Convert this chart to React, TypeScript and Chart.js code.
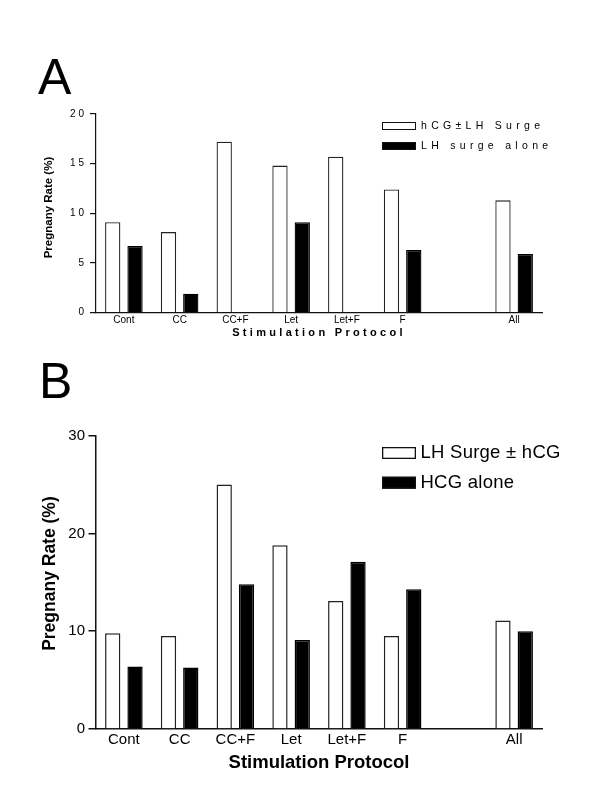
import React, { useEffect, useRef } from 'react';
import { Chart, registerables } from 'chart.js';

Chart.register(...registerables);

// ---------- data ----------
const categories = ['Cont', 'CC', 'CC+F', 'Let', 'Let+F', 'F', '', 'All'];

const panelAHcgLh = [9.1, 8.1, 17.2, 14.8, 15.7, 12.4, 0, 11.3];
const panelALhAlone = [6.7, 1.9, 0, 9.1, 0, 6.3, 0, 5.9];
const panelALabels = ['hCG\u00B1LH Surge', 'LH surge alone'];
const panelATicks = [0, 5, 10, 15, 20];

const panelBLhHcg = [9.8, 9.5, 25.0, 18.8, 13.1, 9.5, 0, 11.1];
const panelBHcgAlone = [6.4, 6.3, 14.8, 9.1, 17.1, 14.3, 0, 10.0];
const panelBLabels = ['LH Surge \u00B1 hCG', 'HCG alone'];
const panelBTicks = [0, 10, 20, 30];

const xTitleText = 'Stimulation Protocol';
const yTitleText = 'Pregnany Rate (%)';

const FONT = "'Liberation Sans', Arial, Helvetica, sans-serif";

// ---------- plugins ----------
const customLegend = {
  id: 'customLegend',
  afterDraw(chart: any, _args: any, o: any) {
    if (!o || !o.display) return;
    const ctx = chart.ctx;
    ctx.save();
    chart.data.datasets.forEach((ds: any, i: number) => {
      const y = o.y + i * o.gap;
      ctx.fillStyle = ds.backgroundColor;
      ctx.fillRect(o.x, y, o.boxW, o.boxH);
      ctx.lineWidth = o.boxBorder;
      ctx.strokeStyle = '#111';
      ctx.strokeRect(o.x + o.boxBorder / 2, y + o.boxBorder / 2, o.boxW - o.boxBorder, o.boxH - o.boxBorder);
      ctx.font = o.font;
      ctx.letterSpacing = o.letterSpacing || '0px';
      ctx.fillStyle = '#000';
      ctx.textAlign = 'left';
      ctx.textBaseline = 'middle';
      ctx.fillText(ds.label, o.x + o.boxW + o.textGap, y + o.boxH / 2 + (o.textDy || 0));
    });
    ctx.restore();
  },
};

const textTweaks = {
  id: 'textTweaks',
  beforeDraw(chart: any, _args: any, o: any) {
    const ctx = chart.ctx;
    const wrap = (obj: any, name: string, spacing: string | null, dy: number) => {
      if (!obj || obj['__w_' + name]) return;
      const orig = obj[name];
      obj[name] = function (...args: any[]) {
        ctx.save();
        if (spacing) ctx.letterSpacing = spacing;
        if (dy) ctx.translate(0, dy);
        orig.apply(this, args);
        ctx.restore();
      };
      obj['__w_' + name] = true;
    };
    wrap(chart.scales.y, 'drawLabels', o.yTickSpacing || null, 0);
    wrap(chart.scales.x, 'drawTitle', o.xTitleSpacing || null, 0);
    wrap(chart.scales.y, 'drawTitle', null, o.yTitleDy || 0);
  },
};

type PanelCfg = {
  white: number[];
  black: number[];
  labels: string[];
  ticks: number[];
  yMax: number;
  areaTop: number;
  xAxisHeight: number;
  axisW: number;
  barBorder: number;
  tickLen: number;
  yTickFont: number;
  yTickPad: number;
  xTickFont: number;
  xTickPad: number;
  xTitleFont: number;
  xTitlePadBottom: number;
  yTitleFont: number;
  yTitlePadTop: number;
  legend: any;
  tweaks: any;
};

function makeConfig(p: PanelCfg): any {
  return {
    type: 'bar',
    data: {
      labels: categories,
      datasets: [
        {
          label: p.labels[0],
          data: p.white,
          backgroundColor: '#ffffff',
          borderColor: '#222222',
          borderWidth: p.barBorder,
          categoryPercentage: 0.8,
          barPercentage: 0.686,
        },
        {
          label: p.labels[1],
          data: p.black,
          backgroundColor: '#000000',
          borderColor: '#000000',
          borderWidth: p.barBorder,
          categoryPercentage: 0.8,
          barPercentage: 0.686,
        },
      ],
    },
    options: {
      animation: false,
      responsive: false,
      maintainAspectRatio: false,
      layout: { padding: { left: 0, right: 58, top: p.areaTop, bottom: 0 } },
      plugins: {
        legend: { display: false },
        tooltip: { enabled: false },
        customLegend: p.legend,
        textTweaks: p.tweaks,
      },
      scales: {
        x: {
          grid: { display: false, drawTicks: false },
          border: { display: true, color: '#111', width: p.axisW },
          ticks: {
            font: { size: p.xTickFont, family: FONT },
            color: '#000',
            padding: p.xTickPad,
            autoSkip: false,
            maxRotation: 0,
            minRotation: 0,
          },
          title: {
            display: true,
            text: xTitleText,
            color: '#000',
            font: { size: p.xTitleFont, weight: 'bold', family: FONT },
            padding: { top: 0, bottom: p.xTitlePadBottom },
          },
          afterFit: (s: any) => {
            s.height = p.xAxisHeight;
          },
        },
        y: {
          min: 0,
          max: p.yMax,
          afterBuildTicks: (s: any) => {
            s.ticks = p.ticks.map((v) => ({ value: v }));
          },
          grid: {
            display: true,
            drawOnChartArea: false,
            drawTicks: true,
            tickLength: p.tickLen,
            color: '#111',
            lineWidth: p.axisW,
          },
          border: { display: true, color: '#111', width: p.axisW },
          ticks: {
            font: { size: p.yTickFont, family: FONT },
            color: '#000',
            padding: p.yTickPad,
          },
          title: {
            display: true,
            text: yTitleText,
            color: '#000',
            font: { size: p.yTitleFont, weight: 'bold', family: FONT },
            padding: { top: p.yTitlePadTop, bottom: 0 },
          },
          afterFit: (s: any) => {
            s.width = 96;
          },
        },
      },
    },
    plugins: [customLegend, textTweaks],
  };
}

const panelA: PanelCfg = {
  white: panelAHcgLh,
  black: panelALhAlone,
  labels: panelALabels,
  ticks: panelATicks,
  yMax: 20,
  areaTop: 114,
  xAxisHeight: 32.5,
  axisW: 1.2,
  barBorder: 1.3,
  tickLen: 6,
  yTickFont: 10,
  yTickPad: 3,
  xTickFont: 10,
  xTickPad: 1.5,
  xTitleFont: 11,
  xTitlePadBottom: 5.4,
  yTitleFont: 11.5,
  yTitlePadTop: 41.6,
  legend: {
    display: true,
    x: 382,
    y: 122,
    boxW: 34,
    boxH: 8,
    gap: 20,
    boxBorder: 1,
    font: `10.5px ${FONT}`,
    letterSpacing: '4.3px',
    textGap: 5,
  },
  tweaks: { yTickSpacing: '3px', xTitleSpacing: '3.3px', yTitleDy: -5.7 },
};

const panelB: PanelCfg = {
  white: panelBLhHcg,
  black: panelBHcgAlone,
  labels: panelBLabels,
  ticks: panelBTicks,
  yMax: 30,
  areaTop: 90.7,
  xAxisHeight: 71,
  axisW: 1.5,
  barBorder: 1.5,
  tickLen: 7.5,
  yTickFont: 15,
  yTickPad: 3.5,
  xTickFont: 15,
  xTickPad: 2,
  xTitleFont: 18.5,
  xTitlePadBottom: 25.9,
  yTitleFont: 17.5,
  yTitlePadTop: 39.5,
  legend: {
    display: true,
    x: 382,
    y: 102,
    boxW: 34,
    boxH: 12,
    gap: 29.7,
    boxBorder: 1.3,
    font: `18.5px ${FONT}`,
    letterSpacing: '0.25px',
    textGap: 4.5,
  },
  tweaks: { yTitleDy: -8.8 },
};

function Panel({ cfg, top, height }: { cfg: PanelCfg; top: number; height: number }) {
  const ref = useRef<HTMLCanvasElement | null>(null);
  useEffect(() => {
    if (!ref.current) return;
    const chart = new Chart(ref.current, makeConfig(cfg));
    return () => chart.destroy();
  }, [cfg]);
  return (
    <canvas
      ref={ref}
      width={600}
      height={height}
      style={{ position: 'absolute', left: 0, top, width: 600, height, display: 'block' }}
    />
  );
}

const letterStyle: React.CSSProperties = {
  position: 'absolute',
  fontFamily: FONT,
  fontSize: 50,
  lineHeight: '50px',
  color: '#000',
  margin: 0,
};

export default function App() {
  return (
    <div
      style={{
        position: 'absolute',
        left: 0,
        top: 0,
        width: 600,
        height: 800,
        background: '#fff',
        overflow: 'hidden',
      }}
    >
      <Panel cfg={panelA} top={0} height={345} />
      <Panel cfg={panelB} top={345} height={455} />
      <div style={{ ...letterStyle, left: 38, top: 51.5 }}>A</div>
      <div style={{ ...letterStyle, left: 39, top: 355.7 }}>B</div>
    </div>
  );
}
